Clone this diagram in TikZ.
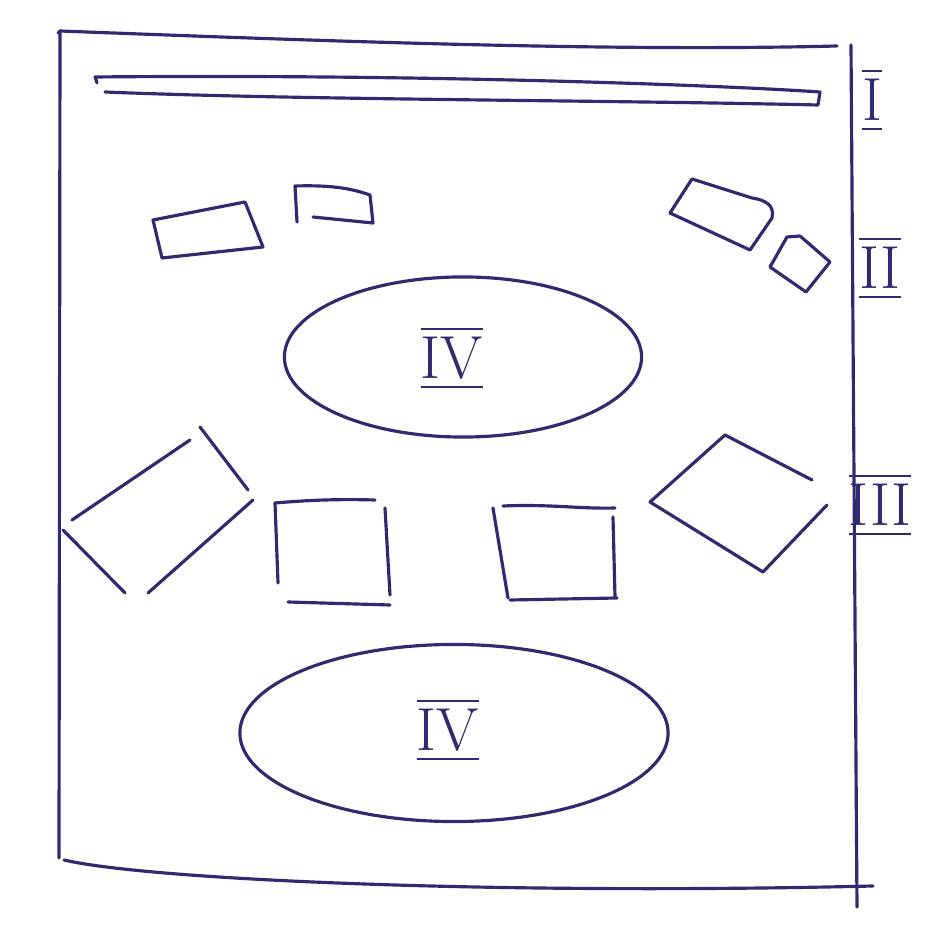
\documentclass[tikz,border=0pt]{standalone}
\usepackage{amsmath}
\definecolor{inkblue}{RGB}{48,42,112}
\usetikzlibrary{shapes.geometric}

\begin{document}
\begin{tikzpicture}[x=0.01cm,y=-0.01cm,
  ink/.style={draw=inkblue,line width=0.9pt,line cap=round,line join=round},
  arena/.style={ink,ellipse,inner sep=0pt},
  numeral/.style={text=inkblue,font=\LARGE,inner sep=1pt}
]
  \useasboundingbox[fill=white] (0,0) rectangle (945,931);

  % outer frame
  \draw[ink] (58,33) -- (60,31) .. controls (300,40) and (600,52) .. (837,46);
  \draw[ink] (60,31) -- (59,858);
  \draw[ink] (64,860) .. controls (150,880) and (500,895) .. (873,886);
  \draw[ink] (851,45) -- (857,907);

  % top bar
  \draw[ink] (97,83) -- (95,77) .. controls (400,74) and (700,84) .. (820,92)
    -- (818,105) .. controls (600,100) and (300,100) .. (105,92);
  \node[numeral] (lblI) at (872,100) {$\overline{\underline{\mathrm{I}}}$};

  % section II
  \draw[ink] (153,220) -- (245,202) -- (263,247) -- (162,258) -- cycle;
  \draw[ink] (297,222) -- (295,186) .. controls (330,185) and (350,188) .. (370,195)
    -- (373,223) -- (313,217);
  \draw[ink] (692,179) -- (670,213) -- (750,250) -- (772,218)
    .. controls (775,205) and (765,200) .. (752,198) -- cycle;
  \draw[ink] (800,236) -- (787,237) -- (770,267) -- (806,292) -- (830,262) -- (800,236);
  \node[numeral] (lblII) at (880,268) {$\overline{\underline{\mathrm{II}}}$};

  % upper stage
  \node[arena,minimum width=3.57cm,minimum height=1.6cm] (stageup) at (463,357) {};
  \node[numeral] (lblIVup) at (452,358) {$\overline{\underline{\mathrm{IV}}}$};

  % section III
  \draw[ink] (190,440) -- (72,520);
  \draw[ink] (200,427) -- (248,490);
  \draw[ink] (253,500) -- (148,593);
  \draw[ink] (63,530) -- (125,593);
  \draw[ink] (275,503) .. controls (310,500) and (340,499) .. (375,500);
  \draw[ink] (275,503) -- (278,583);
  \draw[ink] (385,508) -- (390,595);
  \draw[ink] (288,602) -- (390,605);
  \draw[ink] (493,508) -- (508,598);
  \draw[ink] (503,506) .. controls (550,504) and (580,509) .. (615,508);
  \draw[ink] (613,517) -- (615,597);
  \draw[ink] (510,600) -- (617,598);
  \draw[ink] (812,480) -- (725,435) -- (650,502) -- (763,572) -- (827,505);
  \node[numeral] (lblIII) at (880,505) {$\overline{\underline{\mathrm{III}}}$};

  % lower stage
  \node[arena,minimum width=4.28cm,minimum height=1.77cm] (stagedown) at (454,733) {};
  \node[numeral] (lblIVdown) at (448,730) {$\overline{\underline{\mathrm{IV}}}$};
\end{tikzpicture}
\end{document}
